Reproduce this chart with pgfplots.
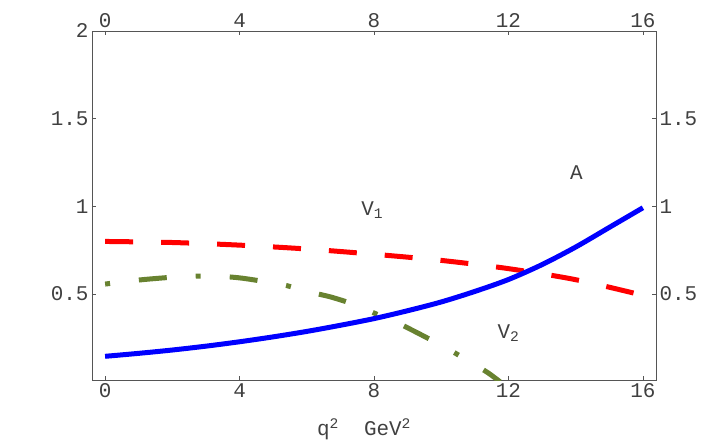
\documentclass[border=0pt]{standalone}
\usepackage{fontspec}
\setmainfont{Liberation Mono}
\usepackage{pgfplots}
\pgfplotsset{compat=1.18}
\definecolor{vblue}{RGB}{0,0,255}
\definecolor{vred}{RGB}{255,0,0}
\definecolor{volive}{RGB}{104,130,48}
\definecolor{frame}{RGB}{85,85,85}

\pgfplotstableread{
q2 A
0 0.145
1 0.162
2 0.181
3 0.203
4 0.228
5 0.256
6 0.287
7 0.322
8 0.360
9 0.405
10 0.455
11 0.515
12 0.583
13 0.668
14 0.768
15 0.880
16 0.992
}\tabA

\pgfplotstableread{
q2 V1
0 0.800
2 0.794
4 0.779
6 0.757
8 0.727
10 0.692
12 0.645
14 0.582
16 0.493
}\tabVone

\pgfplotstableread{
q2 V2
0 0.557
1 0.580
2 0.596
2.75 0.602
3.5 0.600
4.1 0.590
5 0.563
5.43 0.547
6 0.515
6.72 0.483
7.5 0.435
8 0.392
8.6 0.345
9.2 0.288
9.8 0.228
10.4 0.165
11 0.097
11.4 0.050
11.75 0.000
}\tabVtwo

\begin{document}
\begin{tikzpicture}
\pgfplotsset{
  common/.style={
    scale only axis,
    width=564bp, height=349bp,
    xmin=-0.39, xmax=16.39,
    ymin=0.01, ymax=2,
    xtick={0,4,8,12,16},
    tick align=inside,
    major tick length=4bp,
    tick style={frame, line width=0.5bp},
    ticklabel style={font=\fontsize{21}{24}\selectfont, text=black!75},
    /pgf/number format/assume math mode=true,
    clip=true,
  }
}
\begin{axis}[common, name=m,
    axis line style={frame, line width=0.8bp},
    ytick={0.5,1,1.5,2},
    xticklabel pos=lower, yticklabel pos=left,
    xlabel={q\textsuperscript{2}\ \ GeV\textsuperscript{2}},
    xlabel style={font=\fontsize{21}{24}\selectfont, text=black!75, xshift=-10bp, yshift=-14bp},
  ]
  \addplot[vred, line width=5bp, dash pattern=on 28bp off 28bp, smooth] table[x=q2, y=V1] {\tabVone};
  \addplot[volive, line width=5bp, dash pattern=on 5bp off 29bp on 28bp off 29bp, smooth] table[x=q2, y=V2] {\tabVtwo};
  \addplot[vblue, line width=5bp, smooth] table[x=q2, y=A] {\tabA};
  \node[font=\fontsize{21}{24}\selectfont, text=black!75] at (axis cs:14.02,1.19) {A};
  \node[font=\fontsize{21}{24}\selectfont, text=black!75] at (axis cs:7.95,0.98) {V\textsubscript{1}};
  \node[font=\fontsize{21}{24}\selectfont, text=black!75] at (axis cs:12.0,0.275) {V\textsubscript{2}};
\end{axis}
\begin{axis}[common,
    axis line style={draw=none},
    ytick={0.5,1,1.5},
    xticklabel pos=upper, yticklabel pos=right,
  ]
\end{axis}
\path (m.south west) ++(-92bp,-68bp);
\path (m.north east) ++(52bp,31bp);
\end{tikzpicture}
\end{document}
